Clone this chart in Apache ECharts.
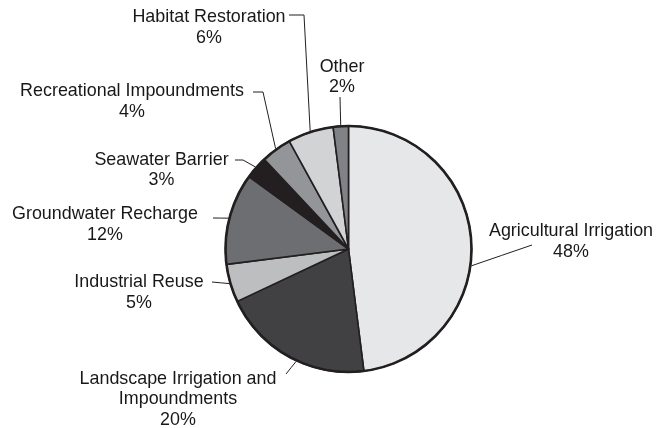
<!DOCTYPE html>
<html>
<head>
<meta charset="utf-8">
<script src="https://cdn.jsdelivr.net/npm/echarts@6/dist/echarts.min.js"></script>
<style>
  html, body { margin: 0; padding: 0; background: #fff; }
  #chart { width: 657px; height: 428px; }
</style>
</head>
<body>
<div id="chart"></div>
<script>
// Reclaimed water use by category (percent of total), clockwise from 12 o'clock
const categories = [
  'Agricultural Irrigation',
  'Landscape Irrigation and\nImpoundments',
  'Industrial Reuse',
  'Groundwater Recharge',
  'Seawater Barrier',
  'Recreational Impoundments',
  'Habitat Restoration',
  'Other'
];
const shares = [48, 20, 5, 12, 3, 4, 6, 2];
const sliceColors = ['#e6e7e8', '#414042', '#bcbec0', '#6d6e71', '#231f20', '#939598', '#d1d3d4', '#808285'];

// Label placement: text anchor (centre x, top y), optional elbow point,
// and an optional edge angle (degrees clockwise from top) for the leader line.
const labelPlacement = [
  { x: 571, y: 221, end: [532, 245], angle: 97.8 },
  { x: 178, y: 368.5, end: [286, 374], angle: 205 },
  { x: 139, y: 272, end: [212, 282] },
  { x: 105, y: 204, end: [213, 218] },
  { x: 161.5, y: 149.5, end: [235, 160], elbow: [243, 160] },
  { x: 132, y: 81, end: [253, 92], elbow: [263, 92] },
  { x: 209, y: 7, end: [289, 15], elbow: [304, 15] },
  { x: 342, y: 56.5, end: [340, 97] }
];

const CX = 348.5, CY = 249, R = 123;
const total = shares.reduce((a, b) => a + b, 0);
const midAngles = [];
let acc = 0;
shares.forEach(v => { midAngles.push((acc + v / 2) / total * 360); acc += v; });

function edgePoint(deg) {
  const rad = deg * Math.PI / 180;
  return [CX + (R + 1) * Math.sin(rad), CY - (R + 1) * Math.cos(rad)];
}

const chart = echarts.init(document.getElementById('chart'), null, { renderer: 'canvas' });
chart.setOption({
  backgroundColor: '#ffffff',
  animation: false,
  graphic: [{
    type: 'circle',
    silent: true,
    z: 100,
    shape: { cx: CX, cy: CY, r: R },
    style: { fill: 'none', stroke: '#231f20', lineWidth: 2.6 }
  }],
  series: [{
    type: 'pie',
    center: [CX, CY],
    radius: [0, R],
    startAngle: 90,
    clockwise: true,
    avoidLabelOverlap: false,
    itemStyle: { borderColor: '#231f20', borderWidth: 1.6 },
    label: {
      show: true,
      position: 'outside',
      formatter: p => p.name + '\n' + p.value + '%',
      fontFamily: '"Liberation Sans", Arial, Helvetica, sans-serif',
      fontSize: 17.9,
      lineHeight: 20.7,
      color: '#1a1718',
      align: 'center'
    },
    labelLine: {
      show: true,
      lineStyle: { color: '#231f20', width: 1 }
    },
    labelLayout: params => {
      const i = params.dataIndex;
      const lp = labelPlacement[i];
      const start = edgePoint(lp.angle != null ? lp.angle : midAngles[i]);
      const mid = lp.elbow || [(start[0] + lp.end[0]) / 2, (start[1] + lp.end[1]) / 2];
      return {
        x: lp.x,
        y: lp.y,
        align: 'center',
        verticalAlign: 'top',
        labelLinePoints: [start, mid, lp.end]
      };
    },
    data: categories.map((name, i) => ({
      name: name,
      value: shares[i],
      itemStyle: { color: sliceColors[i] }
    }))
  }]
});
</script>
</body>
</html>
